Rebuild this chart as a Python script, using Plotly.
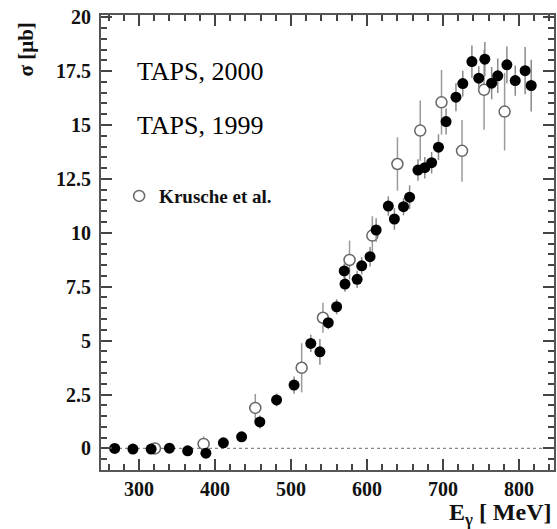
import plotly.graph_objects as go

# TAPS data (filled circles)
taps_e = [268, 292, 316, 340, 364, 388, 411, 435, 459, 481, 504, 526, 538, 549, 560,
          570, 571, 587, 593, 604, 612, 628, 636, 648, 656, 667, 676, 685, 694, 704,
          717, 726, 738, 747, 755, 764, 772, 784, 795, 808, 816]
taps_sigma = [0.0, -0.03, -0.03, 0.01, -0.11, -0.22, 0.26, 0.54, 1.23, 2.25, 2.94, 4.87,
              4.48, 5.83, 6.57, 8.23, 7.62, 7.84, 8.47, 8.89, 10.13, 11.24, 10.64, 11.21,
              11.65, 12.91, 13.02, 13.25, 13.97, 15.16, 16.29, 16.92, 17.94, 17.17, 18.05,
              16.94, 17.28, 17.79, 17.06, 17.52, 16.83]
taps_err = [0.1, 0.1, 0.1, 0.1, 0.1, 0.15, 0.15, 0.2, 0.3, 0.3, 0.4, 0.4, 0.6, 0.3, 0.35,
            0.35, 0.35, 0.4, 0.4, 0.45, 0.55, 0.45, 0.5, 0.4, 0.55, 0.5, 0.5, 0.5, 0.6, 0.6,
            0.65, 0.6, 0.75, 0.55, 0.8, 0.75, 0.8, 0.85, 0.7, 1.1, 1.2]

# Krusche et al. (open circles)
kru_e = [321, 385, 453, 514, 542, 577, 607, 640, 670, 698, 725, 754, 781]
kru_sigma = [0.0, 0.21, 1.88, 3.74, 6.06, 8.74, 9.87, 13.19, 14.74, 16.05, 13.8, 16.63, 15.62]
kru_err = [0.1, 0.35, 0.65, 1.14, 0.7, 0.9, 0.9, 1.24, 1.4, 1.5, 1.43, 1.85, 1.8]

SERIF = "Liberation Serif"
X_RANGE = [250, 846]
Y_RANGE = [-1.0, 20.1]

fig = go.Figure()

fig.add_trace(go.Scatter(
    x=kru_e, y=kru_sigma, mode="markers", name="Krusche et al.",
    marker=dict(symbol="circle", size=11, color="white",
                line=dict(color="#666666", width=1.5)),
    error_y=dict(type="data", array=kru_err, color="#9a9a9a", thickness=1.5, width=0),
    showlegend=True,
))

fig.add_trace(go.Scatter(
    x=taps_e, y=taps_sigma, mode="markers", name="TAPS",
    marker=dict(symbol="circle", size=11, color="black"),
    error_y=dict(type="data", array=taps_err, color="#8a8a8a", thickness=1.5, width=0),
    showlegend=False,
))

fig.add_shape(type="line", xref="paper", x0=0, x1=1, yref="y", y0=0, y1=0,
              line=dict(color="#888888", width=1.2, dash="dot"), layer="below")

fig.add_annotation(text="TAPS, 2000", xref="paper", yref="paper",
                   x=0.075, y=0.876, xanchor="left", yanchor="middle", showarrow=False,
                   font=dict(family=SERIF, size=26, color="black"))
fig.add_annotation(text="TAPS, 1999", xref="paper", yref="paper",
                   x=0.075, y=0.758, xanchor="left", yanchor="middle", showarrow=False,
                   font=dict(family=SERIF, size=26, color="black"))
fig.add_annotation(text="σ [μb]", xref="paper", yref="paper",
                   x=-0.165, y=0.925, xanchor="center", yanchor="middle", showarrow=False,
                   textangle=-90,
                   font=dict(family=SERIF, size=21, color="#111", weight="bold"))
fig.add_annotation(text="E<sub>γ</sub> [ MeV]", xref="paper", yref="paper",
                   x=1.0, y=-0.097, xanchor="right", yanchor="middle", showarrow=False,
                   font=dict(family=SERIF, size=24, color="#111", weight="bold"))

TICKC = "#444444"
axis_common = dict(
    showline=True, linecolor="#555555", linewidth=2, mirror="allticks",
    ticks="inside", ticklen=11, tickwidth=2, tickcolor=TICKC,
    showgrid=False, zeroline=False, tickmode="linear", tick0=0,
    tickfont=dict(family=SERIF, size=20, color="#111", weight="bold"),
)

fig.update_xaxes(range=X_RANGE, dtick=100,
                 minor=dict(ticks="inside", dtick=20, tick0=0, ticklen=6,
                            tickwidth=1.6, tickcolor=TICKC, showgrid=False),
                 **axis_common)
fig.update_yaxes(range=Y_RANGE, dtick=2.5,
                 ticklabelstandoff=4,
                 minor=dict(ticks="inside", dtick=0.5, tick0=0, ticklen=6,
                            tickwidth=1.6, tickcolor=TICKC, showgrid=False),
                 **axis_common)

fig.update_layout(
    width=557, height=529,
    margin=dict(l=101, r=1, t=15, b=59),
    plot_bgcolor="white", paper_bgcolor="white",
    legend=dict(x=0.04, y=0.602, xanchor="left", yanchor="middle",
                bgcolor="rgba(0,0,0,0)",
                font=dict(family=SERIF, size=19, color="#111", weight="bold")),
)

fig.write_html("out.html")
